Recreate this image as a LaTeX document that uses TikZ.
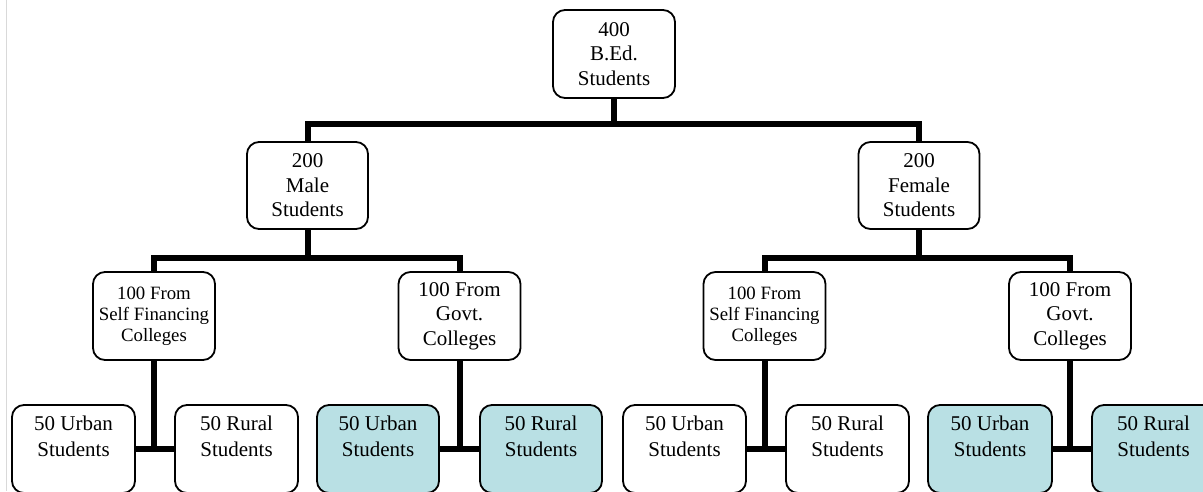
\documentclass[tikz,border=0pt]{standalone}
\usepackage{fontspec}
\setmainfont{Liberation Serif}
\definecolor{boxblue}{RGB}{185,224,228}
\tikzset{
  box/.style={draw=black, line width=1.8pt, rounded corners=12pt, fill=white,
    align=center, inner sep=2pt, outer sep=0pt,
    minimum width=122pt, minimum height=88pt,
    font=\fontsize{21}{24.5}\selectfont},
  smallbox/.style={box, font=\fontsize{18.8}{21}\selectfont},
  bluebox/.style={box, fill=boxblue},
  conn/.style={draw=black, line width=6pt, line join=miter},
}
\begin{document}
\begin{tikzpicture}[x=1pt,y=-1pt]
\useasboundingbox (0,0) rectangle (1203,491);
\clip (0,0) rectangle (1203,491);
\fill[white] (0,0) rectangle (1203,491);
\draw[gray!30, line width=1pt] (6.5,0) -- (6.5,491);
% level 1
\node[box] (top) at (614,54) {400\\B.Ed.\\Students};
% level 2
\node[box, minimum width=121pt, minimum height=87pt] (male) at (307.5,185.5) {200\\Male\\Students};
\node[box, minimum width=121pt, minimum height=87pt] (female) at (919,185.5) {200\\Female\\Students};
% level 3
\node[smallbox] (msf) at (154,316) {100 From\\Self Financing\\Colleges};
\node[box] (mgv) at (459.5,316) {100 From\\Govt.\\Colleges};
\node[smallbox] (fsf) at (764.5,316) {100 From\\Self Financing\\Colleges};
\node[box] (fgv) at (1070,316) {100 From\\Govt.\\Colleges};
% level 4
\node[box, minimum width=123pt] (mu1) at (73.5,449) {50 Urban\\[1pt]Students\\[-6pt]\strut};
\node[box, minimum width=123pt] (mr1) at (236.5,449) {50 Rural\\[1pt]Students\\[-6pt]\strut};
\node[bluebox, minimum width=122pt] (mu2) at (378,449) {50 Urban\\[1pt]Students\\[-6pt]\strut};
\node[bluebox, minimum width=122pt] (mr2) at (541,449) {50 Rural\\[1pt]Students\\[-6pt]\strut};
\node[box, minimum width=123pt] (fu1) at (684.5,449) {50 Urban\\[1pt]Students\\[-6pt]\strut};
\node[box, minimum width=123pt] (fr1) at (847.5,449) {50 Rural\\[1pt]Students\\[-6pt]\strut};
\node[bluebox, minimum width=124pt] (fu2) at (990,449) {50 Urban\\[1pt]Students\\[-6pt]\strut};
\node[bluebox, minimum width=123pt] (fr2) at (1153.5,449) {50 Rural\\[1pt]Students\\[-6pt]\strut};
% connectors
\coordinate (j1) at (614,124);
\draw[conn] (top.south) -- (j1);
\draw[conn] (male.north) |- (j1) -| (female.north);
\coordinate (j2) at (307.5,258);
\draw[conn] (male.south) -- (j2);
\draw[conn] (msf.north) |- (j2) -| (mgv.north);
\coordinate (j3) at (919,258);
\draw[conn] (female.south) -- (j3);
\draw[conn] (fsf.north) |- (j3) -| (fgv.north);
\draw[conn] (msf.south) -- (msf.south |- mu1.east);
\draw[conn] (mu1.east) -- (mr1.west);
\draw[conn] (mgv.south) -- (mgv.south |- mu2.east);
\draw[conn] (mu2.east) -- (mr2.west);
\draw[conn] (fsf.south) -- (fsf.south |- fu1.east);
\draw[conn] (fu1.east) -- (fr1.west);
\draw[conn] (fgv.south) -- (fgv.south |- fu2.east);
\draw[conn] (fu2.east) -- (fr2.west);
\end{tikzpicture}
\end{document}
